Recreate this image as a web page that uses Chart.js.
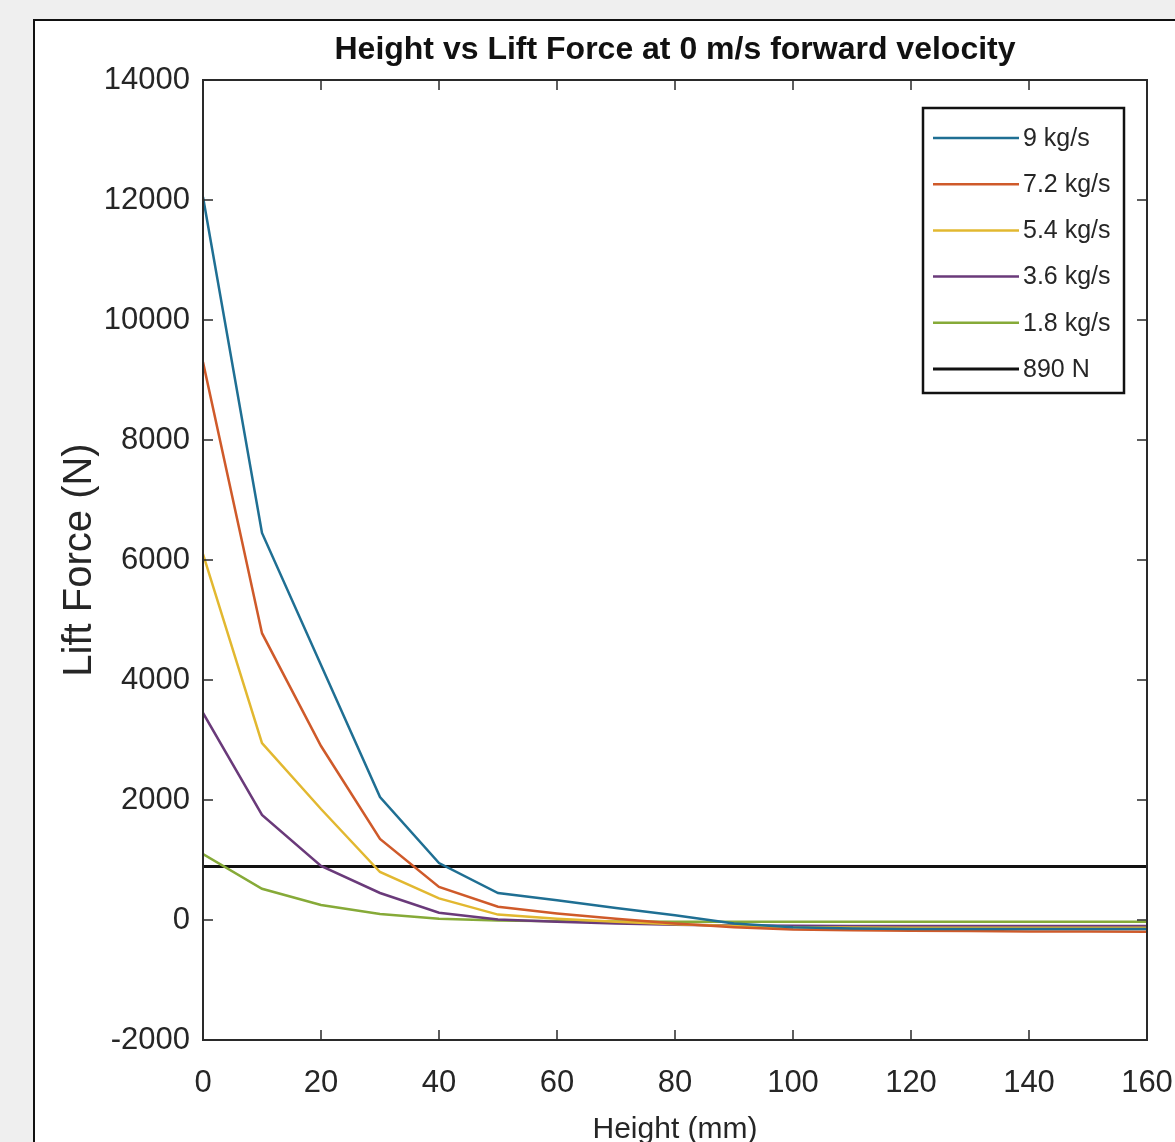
<!DOCTYPE html>
<html>
<head>
<meta charset="utf-8">
<script src="https://cdn.jsdelivr.net/npm/chart.js@4"></script>
<style>
  html, body { margin: 0; padding: 0; background: #efefef; overflow: hidden; }
  #frame {
    position: absolute; left: 33px; top: 19px; width: 1200px; height: 1200px;
    background: #ffffff; border-left: 2px solid #111; border-top: 2px solid #111;
  }
  #chartBox { position: absolute; left: 0; top: 0; width: 1175px; height: 1142px; }
</style>
</head>
<body>
<div id="frame"></div>
<div id="chartBox"><canvas id="liftChart" width="1175" height="1142"></canvas></div>
<script>
// height in mm
const heights = [0, 10, 20, 30, 40, 50, 60, 70, 80, 90, 100, 110, 120, 130, 140, 150, 160];

// lift force (N) per mass flow rate
const lift9 = [12050, 6450, 4250, 2050, 950, 450, 330, 200, 80, -60, -120, -140, -150, -150, -150, -150, -150];
const lift72 = [9300, 4780, 2900, 1350, 550, 220, 110, 20, -60, -120, -160, -170, -180, -185, -190, -190, -195];
const lift54 = [6100, 2950, 1850, 800, 360, 90, 20, -30, -70, -100, -120, -125, -130, -130, -130, -130, -130];
const lift36 = [3450, 1750, 900, 450, 120, 10, -30, -60, -80, -90, -95, -100, -100, -100, -100, -100, -100];
const lift18 = [1100, 520, 250, 100, 20, -10, -20, -25, -30, -30, -30, -30, -30, -30, -30, -30, -30];
const weightLine = [890, 890];
const weightX = [0, 160];

const seriesLabels = ["9 kg/s", "7.2 kg/s", "5.4 kg/s", "3.6 kg/s", "1.8 kg/s", "890 N"];
const seriesColors = ["#1f6f93", "#cf5a2a", "#e2b830", "#6a3a7a", "#86aa38", "#111111"];

const xTicks = [0, 20, 40, 60, 80, 100, 120, 140, 160];
const yTicks = [-2000, 0, 2000, 4000, 6000, 8000, 10000, 12000, 14000];

const chartTitle = "Height vs Lift Force at 0 m/s forward velocity";

function toPoints(xs, ys) {
    return xs.map(function (x, i) { return { x: x, y: ys[i] }; });
}

const allSeries = [lift9, lift72, lift54, lift36, lift18];
const datasets = allSeries.map(function (s, i) {
    return {
        label: seriesLabels[i],
        data: toPoints(heights, s),
        borderColor: seriesColors[i],
        borderWidth: 2.5,
        pointRadius: 0,
        tension: 0,
        fill: false
    };
});
datasets.push({
    label: seriesLabels[5],
    data: toPoints(weightX, weightLine),
    borderColor: seriesColors[5],
    borderWidth: 3,
    pointRadius: 0,
    fill: false
});

// box, inward ticks, title and legend like the matlab figure
const matlabAxes = {
    id: "matlabAxes",
    afterDatasetsDraw: function (chart) {
        const ctx = chart.ctx;
        const a = chart.chartArea;
        const xs = chart.scales.x;
        const ys = chart.scales.y;
        ctx.save();
        ctx.strokeStyle = "#2a2a2a";
        ctx.lineWidth = 1.5;
        ctx.beginPath();
        xTicks.forEach(function (t) {
            const px = xs.getPixelForValue(t);
            ctx.moveTo(px, a.bottom); ctx.lineTo(px, a.bottom - 10);
            ctx.moveTo(px, a.top); ctx.lineTo(px, a.top + 10);
        });
        yTicks.forEach(function (t) {
            const py = ys.getPixelForValue(t);
            ctx.moveTo(a.left, py); ctx.lineTo(a.left + 10, py);
            ctx.moveTo(a.right, py); ctx.lineTo(a.right - 10, py);
        });
        ctx.stroke();
        ctx.lineWidth = 2;
        ctx.strokeRect(a.left, a.top, a.right - a.left, a.bottom - a.top);

        // title centred over the axes
        ctx.fillStyle = "#111111";
        ctx.font = "bold 32px 'Liberation Sans', Arial, sans-serif";
        ctx.textAlign = "center";
        ctx.textBaseline = "middle";
        ctx.fillText(chartTitle, (a.left + a.right) / 2, 50);

        // legend
        const lx = a.right - 224, ly = a.top + 28, lw = 201, lh = 285;
        ctx.fillStyle = "#ffffff";
        ctx.fillRect(lx, ly, lw, lh);
        ctx.strokeStyle = "#111111";
        ctx.lineWidth = 2.5;
        ctx.strokeRect(lx, ly, lw, lh);
        ctx.font = "25px 'Liberation Sans', Arial, sans-serif";
        ctx.textBaseline = "middle";
        ctx.textAlign = "left";
        chart.data.datasets.forEach(function (ds, i) {
            const rowY = ly + 30 + i * 46.2;
            ctx.strokeStyle = ds.borderColor;
            ctx.lineWidth = ds.borderWidth;
            ctx.beginPath();
            ctx.moveTo(lx + 10, rowY);
            ctx.lineTo(lx + 96, rowY);
            ctx.stroke();
            ctx.fillStyle = "#262626";
            ctx.fillText(ds.label, lx + 100, rowY + 1);
        });
        ctx.restore();
    }
};

const ctx = document.getElementById("liftChart").getContext("2d");
window.liftChart = new Chart(ctx, {
    type: "line",
    data: { datasets: datasets },
    plugins: [matlabAxes],
    options: {
        responsive: false,
        animation: false,
        layout: { padding: { left: 0, right: 28, top: 80, bottom: 0 } },
        plugins: {
            legend: { display: false },
            tooltip: { enabled: false },
            title: { display: false }
        },
        scales: {
            x: {
                type: "linear",
                min: 0,
                max: 160,
                afterFit: function (scale) {
                    scale.height = 102;
                    scale.paddingLeft = 0;
                    scale.paddingRight = 0;
                },
                afterBuildTicks: function (scale) {
                    scale.ticks = xTicks.map(function (v) { return { value: v }; });
                },
                grid: { display: false, drawTicks: false },
                border: { display: false },
                ticks: {
                    color: "#262626",
                    padding: 25,
                    maxRotation: 0,
                    font: { family: "'Liberation Sans', Arial, sans-serif", size: 31 }
                },
                title: {
                    display: true,
                    text: "Height (mm)",
                    color: "#262626",
                    font: { family: "'Liberation Sans', Arial, sans-serif", size: 30, lineHeight: 0.8 },
                    padding: { top: 0, bottom: 0 }
                }
            },
            y: {
                type: "linear",
                min: -2000,
                max: 14000,
                afterFit: function (scale) { scale.width = 203; },
                afterBuildTicks: function (scale) {
                    scale.ticks = yTicks.map(function (v) { return { value: v }; });
                },
                grid: { display: false, drawTicks: false },
                border: { display: false },
                ticks: {
                    color: "#262626",
                    padding: 13,
                    font: { family: "'Liberation Sans', Arial, sans-serif", size: 31 },
                    callback: function (value) { return String(value); }
                },
                title: {
                    display: true,
                    text: "Lift Force (N)",
                    color: "#262626",
                    font: { family: "'Liberation Sans', Arial, sans-serif", size: 40, lineHeight: 1.2 },
                    padding: { top: 56, bottom: 0 }
                }
            }
        }
    }
});
</script>
</body>
</html>
